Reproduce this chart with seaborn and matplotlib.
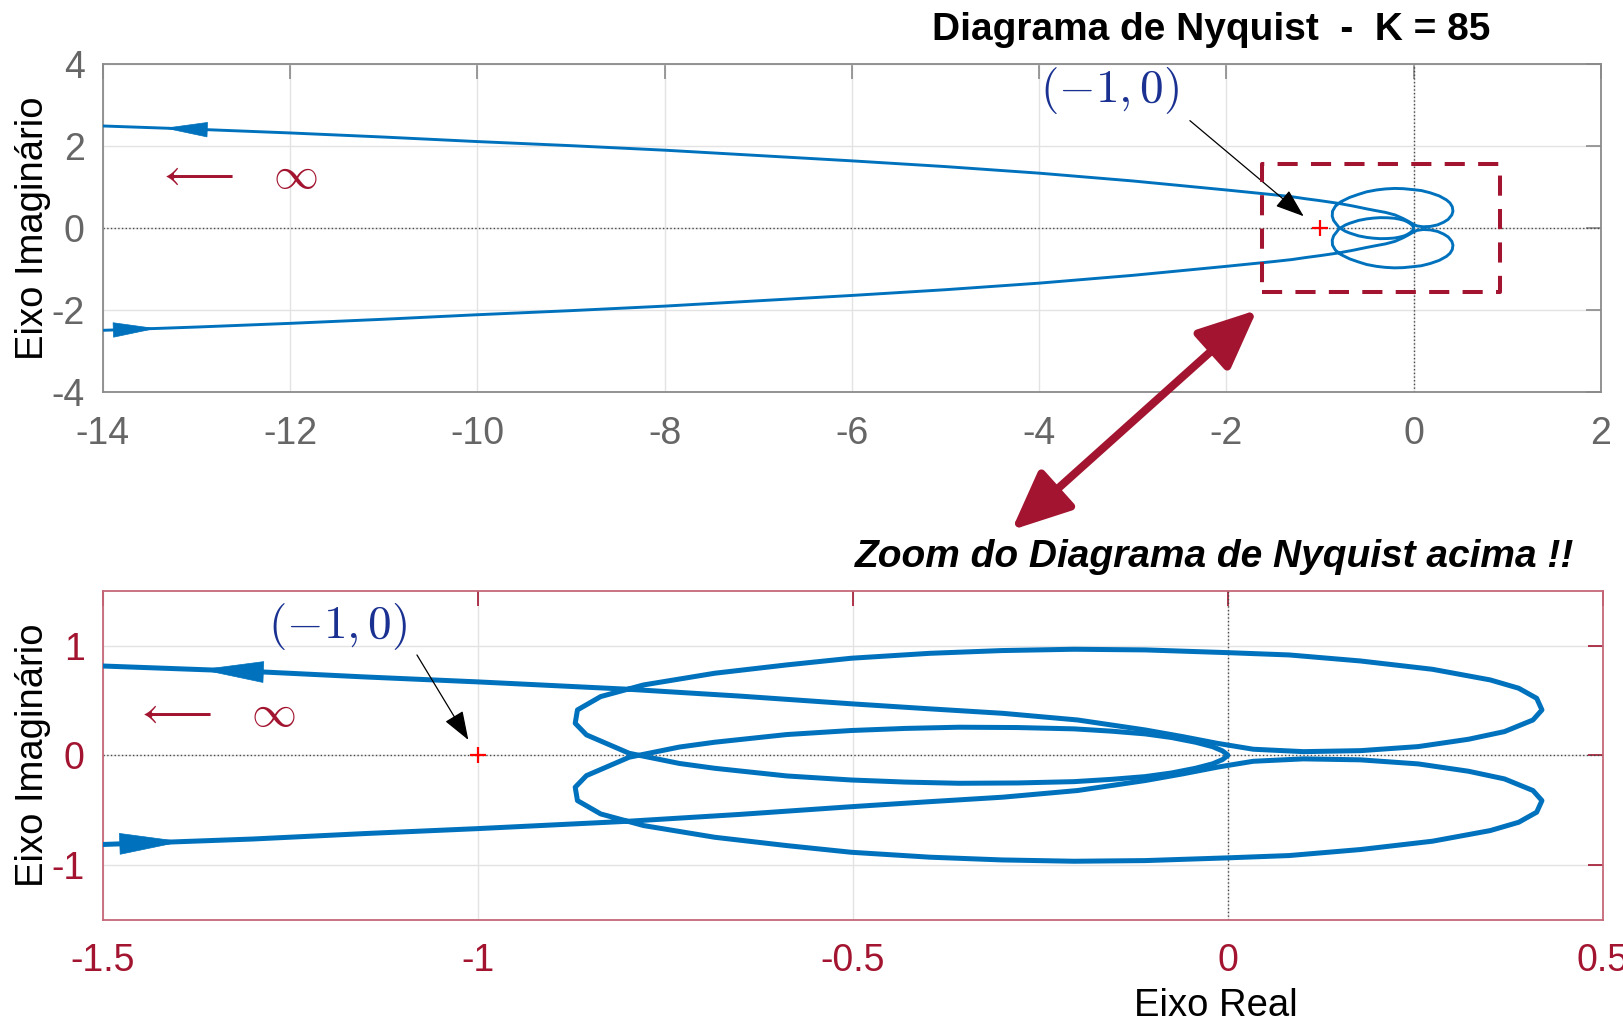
import numpy as np
import pandas as pd
import matplotlib
matplotlib.use("Agg")
import matplotlib.pyplot as plt
import seaborn as sns
from matplotlib.patches import Rectangle, FancyArrowPatch, ArrowStyle

# ---------------- data ----------------
gain_K = 85
critical_re = [-1.0]
critical_im = [0.0]

# branch with Im > 0 on the far left, from the far left to the origin
re_upper = [-14.0, -13.0, -12.0, -11.0, -10.0, -9.0, -8.0, -7.0, -6.0, -5.0,
            -4.0, -3.0, -2.0, -1.5, -1.3, -1.15, -1.0, -0.8, -0.65, -0.5,
            -0.4, -0.3, -0.2, -0.11, -0.06, -0.014, 0.034, 0.101, 0.177, 0.254,
            0.321, 0.369, 0.407, 0.419, 0.412, 0.388, 0.350, 0.273, 0.177, 0.082,
            0.0, -0.110, -0.205, -0.301, -0.397, -0.502, -0.588, -0.684, -0.779, -0.836,
            -0.867, -0.870, -0.855, -0.798, -0.731, -0.684, -0.588, -0.502, -0.43, -0.358,
            -0.28, -0.205, -0.155, -0.110, -0.075, -0.043, -0.020, -0.007, 0.0]
im_upper = [2.49, 2.41, 2.32, 2.22, 2.11, 2.01, 1.90, 1.77, 1.64, 1.50,
            1.34, 1.15, 0.93, 0.815, 0.765, 0.715, 0.67, 0.603, 0.54, 0.469,
            0.425, 0.383, 0.322, 0.231, 0.170, 0.109, 0.055, 0.033, 0.042, 0.079,
            0.146, 0.216, 0.322, 0.414, 0.520, 0.612, 0.688, 0.785, 0.861, 0.916,
            0.937, 0.962, 0.968, 0.956, 0.931, 0.886, 0.825, 0.749, 0.642, 0.536,
            0.414, 0.292, 0.186, 0.018, -0.075, -0.119, -0.189, -0.226, -0.245, -0.256,
            -0.253, -0.241, -0.220, -0.195, -0.162, -0.119, -0.078, -0.040, -0.003]

# mirror branch (Im < 0 on the far left), from the far left to the origin
re_lower = [-14.0, -13.0, -12.0, -11.0, -10.0, -9.0, -8.0, -7.0, -6.0, -5.0,
            -4.0, -3.0, -2.0, -1.5, -1.3, -1.15, -1.0, -0.8, -0.65, -0.5,
            -0.4, -0.3, -0.2, -0.11, -0.06, -0.014, 0.034, 0.101, 0.177, 0.254,
            0.321, 0.369, 0.407, 0.419, 0.412, 0.388, 0.350, 0.273, 0.177, 0.082,
            0.0, -0.110, -0.205, -0.301, -0.397, -0.502, -0.588, -0.684, -0.779, -0.836,
            -0.867, -0.870, -0.855, -0.798, -0.731, -0.684, -0.588, -0.502, -0.43, -0.358,
            -0.28, -0.205, -0.155, -0.110, -0.075, -0.043, -0.020, -0.007, 0.0]
im_lower = [-2.49, -2.41, -2.32, -2.22, -2.11, -2.01, -1.90, -1.77, -1.64, -1.50,
            -1.34, -1.15, -0.93, -0.815, -0.765, -0.715, -0.67, -0.603, -0.54, -0.469,
            -0.425, -0.383, -0.322, -0.231, -0.170, -0.109, -0.055, -0.033, -0.042, -0.079,
            -0.146, -0.216, -0.322, -0.414, -0.520, -0.612, -0.688, -0.785, -0.861, -0.916,
            -0.937, -0.962, -0.968, -0.956, -0.931, -0.886, -0.825, -0.749, -0.642, -0.536,
            -0.414, -0.292, -0.186, -0.018, 0.075, 0.119, 0.189, 0.226, 0.245, 0.256,
            0.253, 0.241, 0.220, 0.195, 0.162, 0.119, 0.078, 0.040, 0.003]

# direction arrows on the curve: (real part of base, real part of tip)
top_arrow_upper = (-12.90, -13.35)
top_arrow_lower = (-13.88, -13.42)
bot_arrow_upper = (-1.281, -1.37)
bot_arrow_lower = (-1.469, -1.393)

# tick values
top_xticks = [-14, -12, -10, -8, -6, -4, -2, 0, 2]
top_yticks = [-4, -2, 0, 2, 4]
bot_xticks = [-1.5, -1, -0.5, 0, 0.5]
bot_yticks = [-1, 0, 1]

# zoom window drawn in the upper plot (real min, real max, imag min, imag max)
zoom_box = (-1.62, 0.92, -1.56, 1.57)

title_txt = f"Diagrama de Nyquist  -  K = {gain_K}"
zoom_txt = "Zoom do Diagrama de Nyquist acima !!"
ylabel_txt = "Eixo Imaginário"
xlabel_txt = "Eixo Real"

# ---------------- styling ----------------
BLUE = "#0072BD"
DARKRED = "#A2142F"
NAVY = "#1A3192"
GRAYSP = "#8A8A8A"
GRAYTXT = "#666666"

sns.set_theme(style="white")
plt.rcParams["font.family"] = ["Liberation Sans", "DejaVu Sans"]
plt.rcParams["mathtext.fontset"] = "cm"
plt.rcParams["axes.unicode_minus"] = False

W, H = 1623, 1024
fig = plt.figure(figsize=(W / 100, H / 100), dpi=100)
fig.patch.set_facecolor("white")

ax1 = fig.add_axes([102.7 / W, 1 - 392.3 / H, 1498.3 / W, 328.3 / H])
ax2 = fig.add_axes([102.7 / W, 1 - 919.5 / H, 1500.0 / W, 328.5 / H])

df = pd.concat([
    pd.DataFrame({"re": re_upper, "im": im_upper, "branch": "pos"}),
    pd.DataFrame({"re": re_lower, "im": im_lower, "branch": "neg"}),
], ignore_index=True)


def line_im(re, im, x):
    n = next(i for i in range(1, len(re)) if re[i] <= re[i - 1])
    return float(np.interp(x, re[:n], im[:n]))


def style_axes(ax, xt, yt, xlim, ylim, spine_c, tick_c, lab_c):
    ax.set_xlim(*xlim)
    ax.set_ylim(*ylim)
    ax.set_xticks(xt)
    ax.set_xticklabels([f"{v:g}" for v in xt])
    ax.set_yticks(yt)
    ax.set_yticklabels([f"{v:g}" for v in yt])
    ax.grid(True, color="#E3E3E3", lw=1.0)
    ax.set_axisbelow(True)
    for s in ax.spines.values():
        s.set_visible(True)
        s.set_color(spine_c)
        s.set_linewidth(1.3)
    ax.tick_params(direction="in", length=11, width=1.2, top=True, right=True,
                   color=tick_c, labelcolor=lab_c, labelsize=27)
    ax.tick_params(axis="x", pad=17)
    ax.tick_params(axis="y", pad=13)
    ax.axhline(0, ls=":", color="#4A4A4A", lw=1.0, zorder=1)
    ax.axvline(0, ls=":", color="#4A4A4A", lw=1.0, zorder=1)


style_axes(ax1, top_xticks, top_yticks, (-14, 2), (-4, 4), GRAYSP, GRAYSP, GRAYTXT)
style_axes(ax2, bot_xticks, bot_yticks, (-1.5, 0.5), (-1.5, 1.5), "#C56878", DARKRED, DARKRED)

for ax, lw in ((ax1, 2.1), (ax2, 3.6)):
    sns.lineplot(data=df, x="re", y="im", units="branch", estimator=None, sort=False,
                 color=BLUE, lw=lw, legend=False, ax=ax, zorder=3)
    ax.plot(critical_re, critical_im, ls="none", marker="+", color="red",
            markersize=11, mew=1.6, zorder=4)
    ax.set_xlabel("")
    ax.set_ylabel(ylabel_txt, fontsize=27.5, color="black")
    ax.yaxis.set_label_coords(-0.0343, 0.5)

# direction arrows on the curve
for ax, arrows, hl, hw in ((ax1, (top_arrow_upper, top_arrow_lower), 30, 5.2),
                           (ax2, (bot_arrow_upper, bot_arrow_lower), 44, 7.5)):
    for (xb, xt), (re, im) in zip(arrows, ((re_upper, im_upper), (re_lower, im_lower))):
        pa = (xb, line_im(re, im, xb))
        pb = (xt, line_im(re, im, xt))
        ax.add_patch(FancyArrowPatch(pa, pb, arrowstyle=ArrowStyle("-|>", head_length=hl, head_width=hw),
                                     mutation_scale=1, color=BLUE, lw=0.5, shrinkA=0, shrinkB=0,
                                     zorder=5))

# "(-1,0)" labels with black pointers
ax1.text(-3.249, 3.345, r"$(-1,0)$", color=NAVY, fontsize=34, ha="center", va="center")
ax1.annotate("", xy=(-1.175, 0.29), xytext=(-2.39, 2.62),
             arrowprops=dict(arrowstyle="-|>,head_length=18,head_width=6.5", mutation_scale=1,
                             lw=0.9, color="black", shrinkA=0, shrinkB=0))
ax2.text(-1.187, 1.174, r"$(-1,0)$", color=NAVY, fontsize=34, ha="center", va="center")
ax2.annotate("", xy=(-1.0125, 0.14), xytext=(-1.081, 0.916),
             arrowprops=dict(arrowstyle="-|>,head_length=18,head_width=6.5", mutation_scale=1,
                             lw=0.9, color="black", shrinkA=0, shrinkB=0))

# "<-- infinity" marks
ax1.text(-12.56, 1.26, r"$\longleftarrow\enspace\;\infty$", color=DARKRED, fontsize=32.5,
         ha="center", va="center")
ax2.text(-1.35, 0.37, r"$\longleftarrow\enspace\;\infty$", color=DARKRED, fontsize=32.5,
         ha="center", va="center")

# zoom window in the upper plot
x0, x1, y0, y1 = zoom_box
ax1.add_patch(Rectangle((x0, y0), x1 - x0, y1 - y0, fill=False, ec=DARKRED, lw=2.9,
                        ls=(0, (5, 3.3)), joinstyle="round", zorder=6))

# big double arrow between the two plots
fig.patches.append(FancyArrowPatch((1011.7 / W, 1 - 530 / H), (1257 / W, 1 - 310 / H),
                                   transform=fig.transFigure,
                                   arrowstyle=ArrowStyle("<|-|>", head_length=36, head_width=16),
                                   mutation_scale=1, color=DARKRED, lw=5.8,
                                   shrinkA=0, shrinkB=0))

# x label of the lower plot
ax2.set_xlabel(xlabel_txt, fontsize=27.5, color="black")
ax2.xaxis.set_label_coords(0.7422, -0.2076)

# titles
fig.text(1211 / W, 1 - 40 / H, title_txt, ha="center", va="baseline",
         fontsize=28, fontweight="bold", color="black")
fig.text(1215 / W, 1 - 567 / H, zoom_txt, ha="center", va="baseline",
         fontsize=28, fontweight="bold", fontstyle="italic", color="black")

fig.savefig("out.png", dpi=100, facecolor="white")
